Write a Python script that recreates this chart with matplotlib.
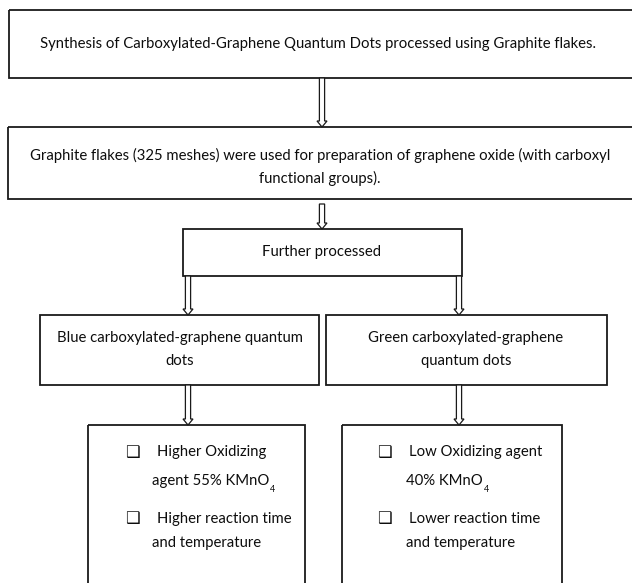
import matplotlib
matplotlib.use("Agg")
import matplotlib.pyplot as plt
from matplotlib.patches import Rectangle, Polygon

# ---- content ----
title_text = "Synthesis of Carboxylated-Graphene Quantum Dots processed using Graphite flakes."
step2_lines = ["Graphite flakes (325 meshes) were used for preparation of graphene oxide (with carboxyl",
               "functional groups)."]
step3_text = "Further processed"
branch_left_lines = ["Blue carboxylated-graphene quantum", "dots"]
branch_right_lines = ["Green carboxylated-graphene", "quantum dots"]
left_bullets = [["Higher Oxidizing", "agent 55% KMnO"], ["Higher reaction time", "and temperature"]]
right_bullets = [["Low Oxidizing agent", "40% KMnO"], ["Lower reaction time", "and temperature"]]
left_sub = [True, False]
right_sub = [True, False]

W, H = 632, 583
fig = plt.figure(figsize=(W / 100, H / 100), dpi=100)
ax = fig.add_axes([0, 0, 1, 1])
ax.set_xlim(0, W)
ax.set_ylim(H, 0)
ax.axis("off")

FONT = "Lato"
LC = "#1a1a1a"
TC = "#0d0d0d"

# fit font size so the title spans ~557 px
probe = ax.text(0, 0, title_text, fontsize=10, family=FONT)
fig.canvas.draw()
w = probe.get_window_extent().width
probe.remove()
FS = 10 * 557 / w


def box(x0, y0, x1, y1):
    ax.add_patch(Rectangle((x0, y0), x1 - x0, y1 - y0, fill=False, ec=LC, lw=1.3, clip_on=True))


def arrow(x, y0, y1):
    sw, hw, hl = 2.6, 5.0, 6
    pts = [(x - sw, y0), (x + sw, y0), (x + sw, y1 - hl), (x + hw, y1 - hl), (x, y1),
           (x - hw, y1 - hl), (x - sw, y1 - hl)]
    ax.add_patch(Polygon(pts, closed=True, fc="white", ec=LC, lw=0.9))


def ctext(x, y, s):
    ax.text(x, y, s, fontsize=FS, family=FONT, ha="center", va="center", color=TC)


# Box 1
box(9, 10, W + 10, 78)
ctext(318, 44, title_text)
arrow(322, 78, 127)

# Box 2
box(8, 127, W + 10, 199)
ctext(320, 155, step2_lines[0])
ctext(320, 178, step2_lines[1])
arrow(322, 204, 229)

# Box 3
box(183, 229, 462, 276)
ctext(322, 252, step3_text)
arrow(188, 276, 315)
arrow(459, 276, 315)

# Box 4
box(40, 315, 319, 385)
box(326, 315, 607, 385)
ctext(180, 338, branch_left_lines[0])
ctext(180, 361, branch_left_lines[1])
ctext(466, 338, branch_right_lines[0])
ctext(466, 361, branch_right_lines[1])
arrow(188, 385, 425)
arrow(459, 385, 425)

# Box 5
box(88, 425, 305, H + 10)
box(342, 425, 562, H + 10)


def bullets(items, subs, xbox, xt1, xt2):
    ys = [(452, 481), (519, 543)]
    for (l1, l2), sub, (y1, y2) in zip(items, subs, ys):
        ax.text(xbox, y1, "\u2751", fontsize=FS * 1.1, family="DejaVu Sans", fontweight="bold",
                ha="center", va="center", color=TC)
        ax.text(xt1, y1, l1, fontsize=FS, family=FONT, ha="left", va="center", color=TC)
        t = ax.text(xt2, y2, l2, fontsize=FS, family=FONT, ha="left", va="center", color=TC)
        if sub:
            fig.canvas.draw()
            bb = t.get_window_extent()
            xd = ax.transData.inverted().transform((bb.x1, 0))[0]
            ax.text(xd + 1, y2 + 8, "4", fontsize=FS * 0.6, family=FONT, ha="left", va="center",
                    color=TC)


bullets(left_bullets, left_sub, 132, 157, 152)
bullets(right_bullets, right_sub, 384, 409, 406)

fig.savefig("out.png", dpi=100, facecolor="white")
